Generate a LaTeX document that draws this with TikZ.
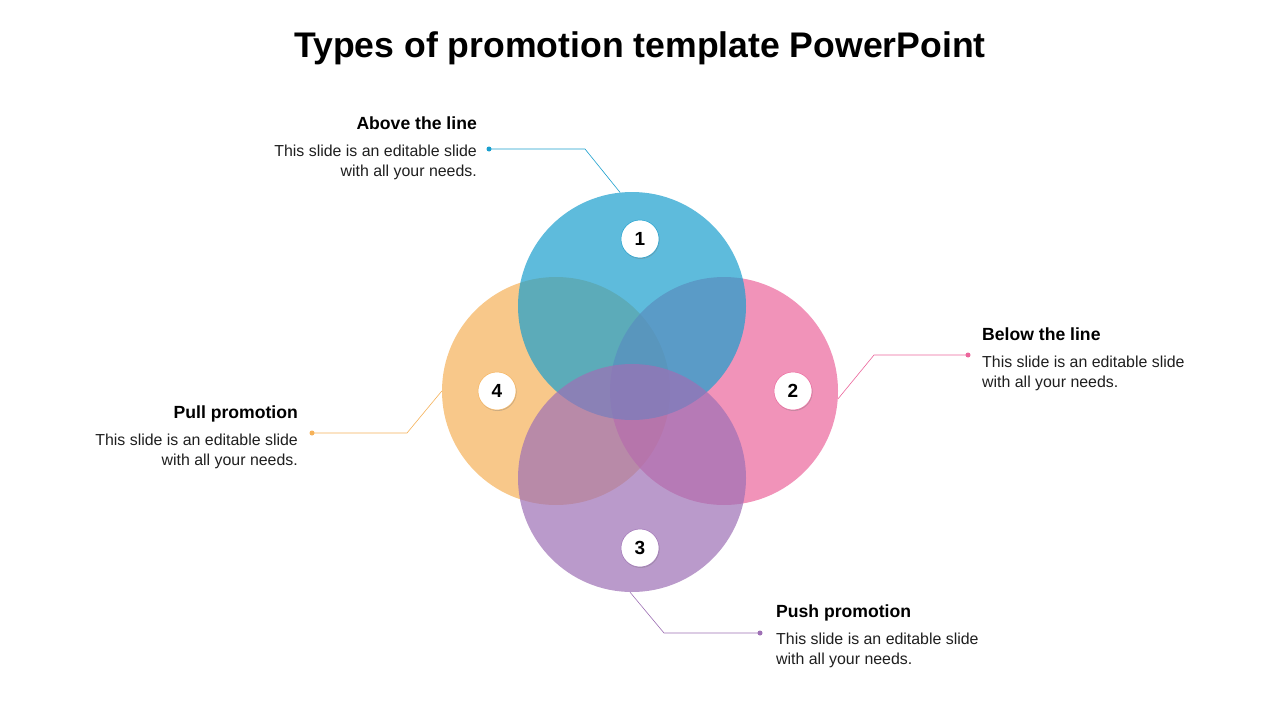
\documentclass[tikz,border=0pt]{standalone}
\usepackage{fontspec}
\setmainfont{Liberation Sans}
\usetikzlibrary{shadows}
\definecolor{skyC}{HTML}{1A9FCE}
\definecolor{roseC}{HTML}{EC669C}
\definecolor{sandC}{HTML}{F6B259}
\definecolor{plumC}{HTML}{9E70B5}
\begin{document}
\begin{tikzpicture}[x=1pt, y=-1pt, line join=round, line cap=round,
  disc/.style={circle, minimum size=228pt, inner sep=0pt, fill=#1, fill opacity=0.7},
  badge/.style={circle, fill=white, draw=#1, line width=0.5pt, minimum size=38pt, inner sep=0pt,
    font=\fontsize{19}{19}\selectfont\bfseries,
    drop shadow={opacity=0.4, shadow xshift=0.6pt, shadow yshift=-1pt}},
  lead/.style={draw=#1, line width=0.6pt},
  dot/.style={circle, fill=#1, inner sep=0pt, minimum size=5pt},
  head/.style={font=\fontsize{17.6}{20}\selectfont\bfseries, inner sep=0pt},
  body/.style={font=\fontsize{15.9}{19.5}\selectfont, text=black!88, inner sep=0pt}]
  \useasboundingbox[fill=white] (0,0) rectangle (1280,720);
  % title
  \node[font=\fontsize{35.6}{38}\selectfont\bfseries, anchor=base] (title) at (640,57) {Types of promotion template PowerPoint};
  % overlapping circles
  \node[disc=sandC] (pull) at (556,391) {};
  \node[disc=roseC] (below) at (724,391) {};
  \node[disc=skyC] (above) at (632,306) {};
  \node[disc=plumC] (push) at (632,478) {};
  % numbers
  \node[badge=skyC] (n1) at (640,239) {1};
  \node[badge=roseC] (n2) at (793,391) {2};
  \node[badge=plumC] (n3) at (640,548) {3};
  \node[badge=sandC] (n4) at (497,391) {4};
  % labels
  \node[head, anchor=base east] (aboveHead) at (477,129) {Above the line};
  \node[body, anchor=north east, align=right] (aboveText) at (477,145) {This slide is an editable slide\\with all your needs.};
  \node[head, anchor=base west] (belowHead) at (982,340) {Below the line};
  \node[body, anchor=north west, align=left] (belowText) at (982,356) {This slide is an editable slide\\with all your needs.};
  \node[head, anchor=base east] (pullHead) at (298,418) {Pull promotion};
  \node[body, anchor=north east, align=right] (pullText) at (298,434) {This slide is an editable slide\\with all your needs.};
  \node[head, anchor=base west] (pushHead) at (776,617) {Push promotion};
  \node[body, anchor=north west, align=left] (pushText) at (776,633) {This slide is an editable slide\\with all your needs.};
  % leaders
  \node[dot=skyC] (d1) at (489,149) {};
  \node[dot=roseC] (d2) at (968,355) {};
  \node[dot=plumC] (d3) at (760,633) {};
  \node[dot=sandC] (d4) at (312,433) {};
  \coordinate (k1) at (585,149);
  \coordinate (k2) at (874,355);
  \coordinate (k3) at (664,633);
  \coordinate (k4) at (407,433);
  \draw[lead=skyC] (d1.center) -- (k1) -- (above.96);
  \draw[lead=roseC] (d2.center) -- (k2) -- (below.-4);
  \draw[lead=plumC] (d3.center) -- (k3) -- (push.-91);
  \draw[lead=sandC] (d4.center) -- (k4) -- (pull.180);
\end{tikzpicture}
\end{document}
